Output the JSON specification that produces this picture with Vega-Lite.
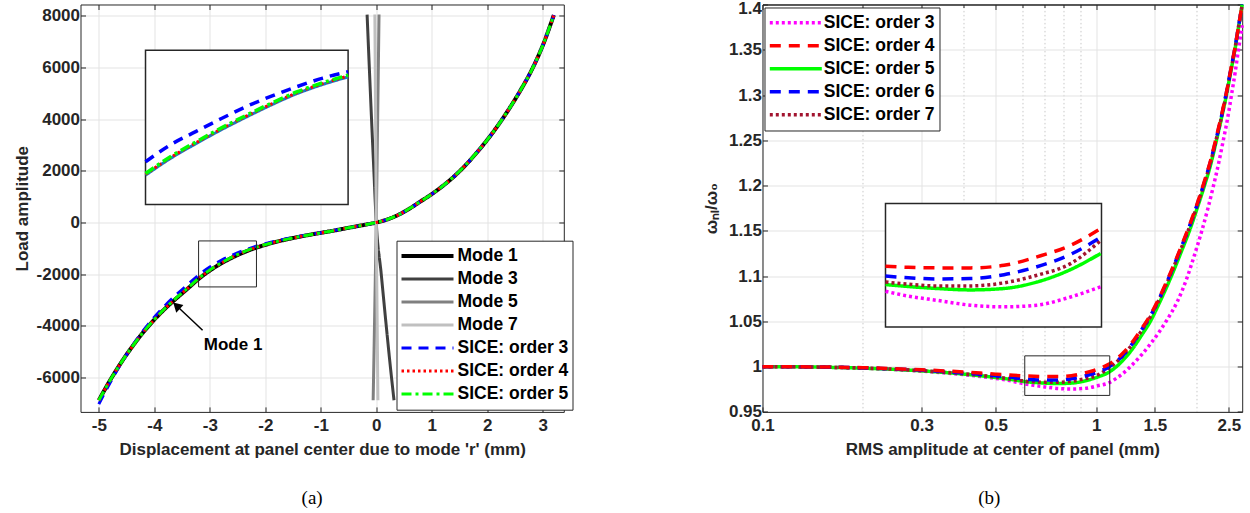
{
"$schema": "https://vega.github.io/schema/vega-lite/v6.json",
"background": "white",
"padding": {"left": 12.5, "top": -2.5, "right": 0, "bottom": 0},
"config": {
  "view": {"stroke": null},
  "font": "Liberation Sans",
  "axis": {"labelFont": "Liberation Sans", "labelFontSize": 17, "labelFontWeight": "bold", "labelColor": "#262626", "titleFont": "Liberation Sans", "titleFontSize": 17, "titleFontWeight": "bold", "titleColor": "#262626", "domainColor": "#262626", "domainWidth": 1, "tickColor": "#262626", "tickWidth": 1, "gridColor": "#e3e3e3", "gridWidth": 1}
},
"datasets": {
  "left": [
    {"series":"Mode 1","x":-5.0,"y":-6880},{"series":"Mode 1","x":-4.8,"y":-6120},{"series":"Mode 1","x":-4.6,"y":-5430},{"series":"Mode 1","x":-4.4,"y":-4810},{"series":"Mode 1","x":-4.2,"y":-4250},{"series":"Mode 1","x":-4.0,"y":-3760},{"series":"Mode 1","x":-3.8,"y":-3320},{"series":"Mode 1","x":-3.6,"y":-2930},{"series":"Mode 1","x":-3.4,"y":-2560},{"series":"Mode 1","x":-3.2,"y":-2180},{"series":"Mode 1","x":-3.0,"y":-1860},{"series":"Mode 1","x":-2.8,"y":-1590},{"series":"Mode 1","x":-2.6,"y":-1360},{"series":"Mode 1","x":-2.4,"y":-1165},{"series":"Mode 1","x":-2.2,"y":-1000},{"series":"Mode 1","x":-2.0,"y":-865},{"series":"Mode 1","x":-1.8,"y":-745},{"series":"Mode 1","x":-1.6,"y":-645},{"series":"Mode 1","x":-1.4,"y":-555},{"series":"Mode 1","x":-1.2,"y":-475},{"series":"Mode 1","x":-1.0,"y":-400},{"series":"Mode 1","x":-0.8,"y":-325},{"series":"Mode 1","x":-0.6,"y":-245},{"series":"Mode 1","x":-0.4,"y":-165},{"series":"Mode 1","x":-0.2,"y":-85},{"series":"Mode 1","x":0,"y":0},{"series":"Mode 1","x":0.2,"y":120},{"series":"Mode 1","x":0.4,"y":300},{"series":"Mode 1","x":0.6,"y":540},{"series":"Mode 1","x":0.8,"y":820},{"series":"Mode 1","x":1.0,"y":1100},{"series":"Mode 1","x":1.2,"y":1420},{"series":"Mode 1","x":1.4,"y":1780},{"series":"Mode 1","x":1.6,"y":2200},{"series":"Mode 1","x":1.8,"y":2680},{"series":"Mode 1","x":2.0,"y":3200},{"series":"Mode 1","x":2.2,"y":3780},{"series":"Mode 1","x":2.4,"y":4420},{"series":"Mode 1","x":2.6,"y":5120},{"series":"Mode 1","x":2.8,"y":5900},{"series":"Mode 1","x":3.0,"y":6850},{"series":"Mode 1","x":3.2,"y":8030},
    {"series":"Mode 3","x":-0.165,"y":8050},{"series":"Mode 3","x":-0.125,"y":6000},{"series":"Mode 3","x":-0.085,"y":4000},{"series":"Mode 3","x":-0.043,"y":2000},{"series":"Mode 3","x":0,"y":0},{"series":"Mode 3","x":0.09,"y":-2000},{"series":"Mode 3","x":0.18,"y":-4000},{"series":"Mode 3","x":0.275,"y":-6000},{"series":"Mode 3","x":0.32,"y":-6880},
    {"series":"Mode 5","x":-0.056,"y":-6880},{"series":"Mode 5","x":-0.04,"y":-5000},{"series":"Mode 5","x":-0.02,"y":-2500},{"series":"Mode 5","x":0,"y":0},{"series":"Mode 5","x":0.025,"y":4000},{"series":"Mode 5","x":0.05,"y":8050},
    {"series":"Mode 7","x":-0.025,"y":8050},{"series":"Mode 7","x":-0.012,"y":4000},{"series":"Mode 7","x":0,"y":0},{"series":"Mode 7","x":0.015,"y":-3500},{"series":"Mode 7","x":0.03,"y":-6880},
    {"series":"SICE: order 3","x":-5.0,"y":-7030},{"series":"SICE: order 3","x":-4.8,"y":-6210},{"series":"SICE: order 3","x":-4.6,"y":-5460},{"series":"SICE: order 3","x":-4.4,"y":-4790},{"series":"SICE: order 3","x":-4.2,"y":-4190},{"series":"SICE: order 3","x":-4.0,"y":-3665},{"series":"SICE: order 3","x":-3.8,"y":-3200},{"series":"SICE: order 3","x":-3.6,"y":-2790},{"series":"SICE: order 3","x":-3.4,"y":-2410},{"series":"SICE: order 3","x":-3.2,"y":-2030},{"series":"SICE: order 3","x":-3.0,"y":-1725},{"series":"SICE: order 3","x":-2.8,"y":-1475},{"series":"SICE: order 3","x":-2.6,"y":-1265},{"series":"SICE: order 3","x":-2.4,"y":-1090},{"series":"SICE: order 3","x":-2.2,"y":-942},{"series":"SICE: order 3","x":-2.0,"y":-820},{"series":"SICE: order 3","x":-1.8,"y":-712},{"series":"SICE: order 3","x":-1.6,"y":-621},{"series":"SICE: order 3","x":-1.4,"y":-539},{"series":"SICE: order 3","x":-1.2,"y":-465},{"series":"SICE: order 3","x":-1.0,"y":-394},{"series":"SICE: order 3","x":-0.8,"y":-322},{"series":"SICE: order 3","x":-0.6,"y":-245},{"series":"SICE: order 3","x":-0.4,"y":-165},{"series":"SICE: order 3","x":-0.2,"y":-85},{"series":"SICE: order 3","x":0,"y":0},{"series":"SICE: order 3","x":0.2,"y":120},{"series":"SICE: order 3","x":0.4,"y":300},{"series":"SICE: order 3","x":0.6,"y":540},{"series":"SICE: order 3","x":0.8,"y":820},{"series":"SICE: order 3","x":1.0,"y":1100},{"series":"SICE: order 3","x":1.2,"y":1420},{"series":"SICE: order 3","x":1.4,"y":1780},{"series":"SICE: order 3","x":1.6,"y":2200},{"series":"SICE: order 3","x":1.8,"y":2680},{"series":"SICE: order 3","x":2.0,"y":3200},{"series":"SICE: order 3","x":2.2,"y":3780},{"series":"SICE: order 3","x":2.4,"y":4420},{"series":"SICE: order 3","x":2.6,"y":5120},{"series":"SICE: order 3","x":2.8,"y":5900},{"series":"SICE: order 3","x":3.0,"y":6850},{"series":"SICE: order 3","x":3.2,"y":8030},
    {"series":"SICE: order 4","x":-5.0,"y":-6880},{"series":"SICE: order 4","x":-4.8,"y":-6120},{"series":"SICE: order 4","x":-4.6,"y":-5430},{"series":"SICE: order 4","x":-4.4,"y":-4810},{"series":"SICE: order 4","x":-4.2,"y":-4250},{"series":"SICE: order 4","x":-4.0,"y":-3760},{"series":"SICE: order 4","x":-3.8,"y":-3315},{"series":"SICE: order 4","x":-3.6,"y":-2920},{"series":"SICE: order 4","x":-3.4,"y":-2550},{"series":"SICE: order 4","x":-3.2,"y":-2170},{"series":"SICE: order 4","x":-3.0,"y":-1850},{"series":"SICE: order 4","x":-2.8,"y":-1580},{"series":"SICE: order 4","x":-2.6,"y":-1350},{"series":"SICE: order 4","x":-2.4,"y":-1155},{"series":"SICE: order 4","x":-2.2,"y":-990},{"series":"SICE: order 4","x":-2.0,"y":-859},{"series":"SICE: order 4","x":-1.8,"y":-742},{"series":"SICE: order 4","x":-1.6,"y":-643},{"series":"SICE: order 4","x":-1.4,"y":-555},{"series":"SICE: order 4","x":-1.2,"y":-475},{"series":"SICE: order 4","x":-1.0,"y":-400},{"series":"SICE: order 4","x":-0.8,"y":-325},{"series":"SICE: order 4","x":-0.6,"y":-245},{"series":"SICE: order 4","x":-0.4,"y":-165},{"series":"SICE: order 4","x":-0.2,"y":-85},{"series":"SICE: order 4","x":0,"y":0},{"series":"SICE: order 4","x":0.2,"y":120},{"series":"SICE: order 4","x":0.4,"y":300},{"series":"SICE: order 4","x":0.6,"y":540},{"series":"SICE: order 4","x":0.8,"y":820},{"series":"SICE: order 4","x":1.0,"y":1100},{"series":"SICE: order 4","x":1.2,"y":1420},{"series":"SICE: order 4","x":1.4,"y":1780},{"series":"SICE: order 4","x":1.6,"y":2200},{"series":"SICE: order 4","x":1.8,"y":2680},{"series":"SICE: order 4","x":2.0,"y":3200},{"series":"SICE: order 4","x":2.2,"y":3780},{"series":"SICE: order 4","x":2.4,"y":4420},{"series":"SICE: order 4","x":2.6,"y":5120},{"series":"SICE: order 4","x":2.8,"y":5900},{"series":"SICE: order 4","x":3.0,"y":6850},{"series":"SICE: order 4","x":3.2,"y":8030},
    {"series":"SICE: order 5","x":-5.0,"y":-6880},{"series":"SICE: order 5","x":-4.8,"y":-6120},{"series":"SICE: order 5","x":-4.6,"y":-5430},{"series":"SICE: order 5","x":-4.4,"y":-4810},{"series":"SICE: order 5","x":-4.2,"y":-4250},{"series":"SICE: order 5","x":-4.0,"y":-3755},{"series":"SICE: order 5","x":-3.8,"y":-3310},{"series":"SICE: order 5","x":-3.6,"y":-2910},{"series":"SICE: order 5","x":-3.4,"y":-2540},{"series":"SICE: order 5","x":-3.2,"y":-2160},{"series":"SICE: order 5","x":-3.0,"y":-1840},{"series":"SICE: order 5","x":-2.8,"y":-1570},{"series":"SICE: order 5","x":-2.6,"y":-1340},{"series":"SICE: order 5","x":-2.4,"y":-1145},{"series":"SICE: order 5","x":-2.2,"y":-982},{"series":"SICE: order 5","x":-2.0,"y":-853},{"series":"SICE: order 5","x":-1.8,"y":-739},{"series":"SICE: order 5","x":-1.6,"y":-641},{"series":"SICE: order 5","x":-1.4,"y":-554},{"series":"SICE: order 5","x":-1.2,"y":-475},{"series":"SICE: order 5","x":-1.0,"y":-400},{"series":"SICE: order 5","x":-0.8,"y":-325},{"series":"SICE: order 5","x":-0.6,"y":-245},{"series":"SICE: order 5","x":-0.4,"y":-165},{"series":"SICE: order 5","x":-0.2,"y":-85},{"series":"SICE: order 5","x":0,"y":0},{"series":"SICE: order 5","x":0.2,"y":120},{"series":"SICE: order 5","x":0.4,"y":300},{"series":"SICE: order 5","x":0.6,"y":540},{"series":"SICE: order 5","x":0.8,"y":820},{"series":"SICE: order 5","x":1.0,"y":1100},{"series":"SICE: order 5","x":1.2,"y":1420},{"series":"SICE: order 5","x":1.4,"y":1780},{"series":"SICE: order 5","x":1.6,"y":2200},{"series":"SICE: order 5","x":1.8,"y":2680},{"series":"SICE: order 5","x":2.0,"y":3200},{"series":"SICE: order 5","x":2.2,"y":3780},{"series":"SICE: order 5","x":2.4,"y":4420},{"series":"SICE: order 5","x":2.6,"y":5120},{"series":"SICE: order 5","x":2.8,"y":5900},{"series":"SICE: order 5","x":3.0,"y":6850},{"series":"SICE: order 5","x":3.2,"y":8030}
  ],
  "leftInset": [
    {"series":"Mode 1","x":-3.202,"y":-2155},{"series":"Mode 1","x":-3.072,"y":-1959},{"series":"Mode 1","x":-2.941,"y":-1789},{"series":"Mode 1","x":-2.811,"y":-1629},{"series":"Mode 1","x":-2.681,"y":-1481},{"series":"Mode 1","x":-2.55,"y":-1339},{"series":"Mode 1","x":-2.42,"y":-1211},{"series":"Mode 1","x":-2.289,"y":-1107},{"series":"Mode 1","x":-2.159,"y":-1020},
    {"series":"SICE: order 3","x":-3.202,"y":-2000},{"series":"SICE: order 3","x":-3.072,"y":-1802},{"series":"SICE: order 3","x":-2.941,"y":-1649},{"series":"SICE: order 3","x":-2.811,"y":-1501},{"series":"SICE: order 3","x":-2.681,"y":-1360},{"series":"SICE: order 3","x":-2.55,"y":-1239},{"series":"SICE: order 3","x":-2.42,"y":-1131},{"series":"SICE: order 3","x":-2.289,"y":-1034},{"series":"SICE: order 3","x":-2.159,"y":-960},
    {"series":"SICE: order 4","x":-3.202,"y":-2145},{"series":"SICE: order 4","x":-3.072,"y":-1949},{"series":"SICE: order 4","x":-2.941,"y":-1779},{"series":"SICE: order 4","x":-2.811,"y":-1619},{"series":"SICE: order 4","x":-2.681,"y":-1471},{"series":"SICE: order 4","x":-2.55,"y":-1329},{"series":"SICE: order 4","x":-2.42,"y":-1201},{"series":"SICE: order 4","x":-2.289,"y":-1097},{"series":"SICE: order 4","x":-2.159,"y":-1010},
    {"series":"SICE: order 5","x":-3.202,"y":-2135},{"series":"SICE: order 5","x":-3.072,"y":-1939},{"series":"SICE: order 5","x":-2.941,"y":-1769},{"series":"SICE: order 5","x":-2.811,"y":-1609},{"series":"SICE: order 5","x":-2.681,"y":-1461},{"series":"SICE: order 5","x":-2.55,"y":-1319},{"series":"SICE: order 5","x":-2.42,"y":-1191},{"series":"SICE: order 5","x":-2.289,"y":-1087},{"series":"SICE: order 5","x":-2.159,"y":-1000}
  ],
  "right": [
    {"s":"SICE: order 3","x":0.1,"y":1.0},{"s":"SICE: order 3","x":0.15,"y":0.9994},{"s":"SICE: order 3","x":0.2,"y":0.9983},{"s":"SICE: order 3","x":0.25,"y":0.9968},{"s":"SICE: order 3","x":0.3,"y":0.9951},{"s":"SICE: order 3","x":0.35,"y":0.9932},{"s":"SICE: order 3","x":0.4,"y":0.9912},{"s":"SICE: order 3","x":0.45,"y":0.9891},{"s":"SICE: order 3","x":0.5,"y":0.987},{"s":"SICE: order 3","x":0.55,"y":0.9846},{"s":"SICE: order 3","x":0.611,"y":0.9808},{"s":"SICE: order 3","x":0.65,"y":0.9793},{"s":"SICE: order 3","x":0.703,"y":0.9776},{"s":"SICE: order 3","x":0.769,"y":0.9759},{"s":"SICE: order 3","x":0.843,"y":0.9753},{"s":"SICE: order 3","x":0.922,"y":0.9759},{"s":"SICE: order 3","x":1.01,"y":0.9788},{"s":"SICE: order 3","x":1.096,"y":0.9824},{"s":"SICE: order 3","x":1.15,"y":0.9871},{"s":"SICE: order 3","x":1.2,"y":0.9921},{"s":"SICE: order 3","x":1.267,"y":1.0},{"s":"SICE: order 3","x":1.37,"y":1.0133},{"s":"SICE: order 3","x":1.456,"y":1.0253},{"s":"SICE: order 3","x":1.55,"y":1.0391},{"s":"SICE: order 3","x":1.63,"y":1.0515},{"s":"SICE: order 3","x":1.75,"y":1.0716},{"s":"SICE: order 3","x":1.874,"y":1.0985},{"s":"SICE: order 3","x":1.97,"y":1.123},{"s":"SICE: order 3","x":2.07,"y":1.149},{"s":"SICE: order 3","x":2.16,"y":1.174},{"s":"SICE: order 3","x":2.245,"y":1.199},{"s":"SICE: order 3","x":2.33,"y":1.225},{"s":"SICE: order 3","x":2.405,"y":1.25},{"s":"SICE: order 3","x":2.48,"y":1.275},{"s":"SICE: order 3","x":2.545,"y":1.3},{"s":"SICE: order 3","x":2.61,"y":1.325},{"s":"SICE: order 3","x":2.67,"y":1.35},{"s":"SICE: order 3","x":2.74,"y":1.377},
    {"s":"SICE: order 5","x":0.1,"y":1.0},{"s":"SICE: order 5","x":0.15,"y":0.9994},{"s":"SICE: order 5","x":0.2,"y":0.9983},{"s":"SICE: order 5","x":0.25,"y":0.9969},{"s":"SICE: order 5","x":0.3,"y":0.9953},{"s":"SICE: order 5","x":0.35,"y":0.9936},{"s":"SICE: order 5","x":0.4,"y":0.9918},{"s":"SICE: order 5","x":0.45,"y":0.9899},{"s":"SICE: order 5","x":0.5,"y":0.988},{"s":"SICE: order 5","x":0.55,"y":0.9861},{"s":"SICE: order 5","x":0.611,"y":0.9835},{"s":"SICE: order 5","x":0.65,"y":0.9826},{"s":"SICE: order 5","x":0.703,"y":0.9818},{"s":"SICE: order 5","x":0.769,"y":0.9813},{"s":"SICE: order 5","x":0.843,"y":0.9818},{"s":"SICE: order 5","x":0.922,"y":0.9841},{"s":"SICE: order 5","x":1.01,"y":0.9885},{"s":"SICE: order 5","x":1.096,"y":0.9942},{"s":"SICE: order 5","x":1.15,"y":1.0},{"s":"SICE: order 5","x":1.2,"y":1.0065},{"s":"SICE: order 5","x":1.296,"y":1.0215},{"s":"SICE: order 5","x":1.37,"y":1.035},{"s":"SICE: order 5","x":1.454,"y":1.05},{"s":"SICE: order 5","x":1.55,"y":1.071},{"s":"SICE: order 5","x":1.681,"y":1.1},{"s":"SICE: order 5","x":1.8,"y":1.127},{"s":"SICE: order 5","x":1.904,"y":1.15},{"s":"SICE: order 5","x":2.0,"y":1.173},{"s":"SICE: order 5","x":2.112,"y":1.2},{"s":"SICE: order 5","x":2.2,"y":1.222},{"s":"SICE: order 5","x":2.294,"y":1.25},{"s":"SICE: order 5","x":2.38,"y":1.276},{"s":"SICE: order 5","x":2.458,"y":1.3},{"s":"SICE: order 5","x":2.53,"y":1.325},{"s":"SICE: order 5","x":2.606,"y":1.35},{"s":"SICE: order 5","x":2.67,"y":1.374},{"s":"SICE: order 5","x":2.74,"y":1.4},
    {"s":"SICE: order 7","x":0.1,"y":1.0},{"s":"SICE: order 7","x":0.15,"y":0.9994},{"s":"SICE: order 7","x":0.2,"y":0.9984},{"s":"SICE: order 7","x":0.25,"y":0.9971},{"s":"SICE: order 7","x":0.3,"y":0.9955},{"s":"SICE: order 7","x":0.35,"y":0.9939},{"s":"SICE: order 7","x":0.4,"y":0.9922},{"s":"SICE: order 7","x":0.45,"y":0.9904},{"s":"SICE: order 7","x":0.5,"y":0.9886},{"s":"SICE: order 7","x":0.55,"y":0.9866},{"s":"SICE: order 7","x":0.611,"y":0.9841},{"s":"SICE: order 7","x":0.65,"y":0.9833},{"s":"SICE: order 7","x":0.703,"y":0.9827},{"s":"SICE: order 7","x":0.769,"y":0.9827},{"s":"SICE: order 7","x":0.843,"y":0.9838},{"s":"SICE: order 7","x":0.922,"y":0.9865},{"s":"SICE: order 7","x":1.01,"y":0.9906},{"s":"SICE: order 7","x":1.086,"y":0.998},{"s":"SICE: order 7","x":1.15,"y":1.005},{"s":"SICE: order 7","x":1.2,"y":1.0115},{"s":"SICE: order 7","x":1.296,"y":1.027},{"s":"SICE: order 7","x":1.37,"y":1.04},{"s":"SICE: order 7","x":1.454,"y":1.055},{"s":"SICE: order 7","x":1.55,"y":1.075},{"s":"SICE: order 7","x":1.681,"y":1.104},{"s":"SICE: order 7","x":1.8,"y":1.131},{"s":"SICE: order 7","x":1.904,"y":1.154},{"s":"SICE: order 7","x":2.0,"y":1.176},{"s":"SICE: order 7","x":2.112,"y":1.203},{"s":"SICE: order 7","x":2.2,"y":1.225},{"s":"SICE: order 7","x":2.294,"y":1.252},{"s":"SICE: order 7","x":2.38,"y":1.277},{"s":"SICE: order 7","x":2.458,"y":1.302},{"s":"SICE: order 7","x":2.53,"y":1.326},{"s":"SICE: order 7","x":2.606,"y":1.351},{"s":"SICE: order 7","x":2.67,"y":1.375},{"s":"SICE: order 7","x":2.74,"y":1.4},
    {"s":"SICE: order 6","x":0.1,"y":1.0},{"s":"SICE: order 6","x":0.15,"y":0.9995},{"s":"SICE: order 6","x":0.2,"y":0.9986},{"s":"SICE: order 6","x":0.25,"y":0.9974},{"s":"SICE: order 6","x":0.3,"y":0.996},{"s":"SICE: order 6","x":0.35,"y":0.9945},{"s":"SICE: order 6","x":0.4,"y":0.993},{"s":"SICE: order 6","x":0.45,"y":0.9914},{"s":"SICE: order 6","x":0.5,"y":0.9899},{"s":"SICE: order 6","x":0.55,"y":0.9884},{"s":"SICE: order 6","x":0.611,"y":0.9862},{"s":"SICE: order 6","x":0.65,"y":0.9856},{"s":"SICE: order 6","x":0.703,"y":0.9852},{"s":"SICE: order 6","x":0.769,"y":0.9853},{"s":"SICE: order 6","x":0.843,"y":0.9867},{"s":"SICE: order 6","x":0.922,"y":0.9895},{"s":"SICE: order 6","x":1.01,"y":0.9939},{"s":"SICE: order 6","x":1.086,"y":0.9991},{"s":"SICE: order 6","x":1.15,"y":1.0055},{"s":"SICE: order 6","x":1.2,"y":1.012},{"s":"SICE: order 6","x":1.296,"y":1.0275},{"s":"SICE: order 6","x":1.37,"y":1.041},{"s":"SICE: order 6","x":1.454,"y":1.056},{"s":"SICE: order 6","x":1.55,"y":1.076},{"s":"SICE: order 6","x":1.681,"y":1.105},{"s":"SICE: order 6","x":1.8,"y":1.132},{"s":"SICE: order 6","x":1.904,"y":1.155},{"s":"SICE: order 6","x":2.0,"y":1.177},{"s":"SICE: order 6","x":2.112,"y":1.204},{"s":"SICE: order 6","x":2.2,"y":1.226},{"s":"SICE: order 6","x":2.294,"y":1.253},{"s":"SICE: order 6","x":2.38,"y":1.278},{"s":"SICE: order 6","x":2.458,"y":1.303},{"s":"SICE: order 6","x":2.53,"y":1.327},{"s":"SICE: order 6","x":2.606,"y":1.352},{"s":"SICE: order 6","x":2.67,"y":1.375},{"s":"SICE: order 6","x":2.74,"y":1.4},
    {"s":"SICE: order 4","x":0.1,"y":1.0},{"s":"SICE: order 4","x":0.15,"y":0.9996},{"s":"SICE: order 4","x":0.2,"y":0.9988},{"s":"SICE: order 4","x":0.25,"y":0.9977},{"s":"SICE: order 4","x":0.3,"y":0.9965},{"s":"SICE: order 4","x":0.35,"y":0.9953},{"s":"SICE: order 4","x":0.4,"y":0.9941},{"s":"SICE: order 4","x":0.45,"y":0.9929},{"s":"SICE: order 4","x":0.5,"y":0.9917},{"s":"SICE: order 4","x":0.55,"y":0.9907},{"s":"SICE: order 4","x":0.611,"y":0.9897},{"s":"SICE: order 4","x":0.65,"y":0.9893},{"s":"SICE: order 4","x":0.703,"y":0.9891},{"s":"SICE: order 4","x":0.769,"y":0.9891},{"s":"SICE: order 4","x":0.843,"y":0.99},{"s":"SICE: order 4","x":0.922,"y":0.993},{"s":"SICE: order 4","x":1.01,"y":0.9971},{"s":"SICE: order 4","x":1.086,"y":1.0022},{"s":"SICE: order 4","x":1.15,"y":1.0085},{"s":"SICE: order 4","x":1.2,"y":1.0145},{"s":"SICE: order 4","x":1.296,"y":1.029},{"s":"SICE: order 4","x":1.37,"y":1.042},{"s":"SICE: order 4","x":1.454,"y":1.057},{"s":"SICE: order 4","x":1.55,"y":1.077},{"s":"SICE: order 4","x":1.681,"y":1.106},{"s":"SICE: order 4","x":1.8,"y":1.133},{"s":"SICE: order 4","x":1.904,"y":1.156},{"s":"SICE: order 4","x":2.0,"y":1.178},{"s":"SICE: order 4","x":2.112,"y":1.205},{"s":"SICE: order 4","x":2.2,"y":1.227},{"s":"SICE: order 4","x":2.294,"y":1.254},{"s":"SICE: order 4","x":2.38,"y":1.279},{"s":"SICE: order 4","x":2.458,"y":1.303},{"s":"SICE: order 4","x":2.53,"y":1.327},{"s":"SICE: order 4","x":2.606,"y":1.352},{"s":"SICE: order 4","x":2.67,"y":1.375},{"s":"SICE: order 4","x":2.74,"y":1.4}
  ],
  "rightInset": [
    {"s":"SICE: order 3","x":0.611,"y":0.9808},{"s":"SICE: order 3","x":0.65,"y":0.9791},{"s":"SICE: order 3","x":0.703,"y":0.9776},{"s":"SICE: order 3","x":0.769,"y":0.9759},{"s":"SICE: order 3","x":0.843,"y":0.9753},{"s":"SICE: order 3","x":0.922,"y":0.9759},{"s":"SICE: order 3","x":1.01,"y":0.9788},{"s":"SICE: order 3","x":1.096,"y":0.9824},
    {"s":"SICE: order 5","x":0.611,"y":0.9832},{"s":"SICE: order 5","x":0.65,"y":0.9825},{"s":"SICE: order 5","x":0.703,"y":0.9818},{"s":"SICE: order 5","x":0.769,"y":0.9813},{"s":"SICE: order 5","x":0.843,"y":0.9818},{"s":"SICE: order 5","x":0.922,"y":0.9841},{"s":"SICE: order 5","x":1.01,"y":0.9885},{"s":"SICE: order 5","x":1.096,"y":0.9942},
    {"s":"SICE: order 7","x":0.611,"y":0.9841},{"s":"SICE: order 7","x":0.65,"y":0.9833},{"s":"SICE: order 7","x":0.703,"y":0.9827},{"s":"SICE: order 7","x":0.769,"y":0.9827},{"s":"SICE: order 7","x":0.843,"y":0.9838},{"s":"SICE: order 7","x":0.922,"y":0.9865},{"s":"SICE: order 7","x":1.01,"y":0.9906},{"s":"SICE: order 7","x":1.096,"y":0.9988},
    {"s":"SICE: order 6","x":0.611,"y":0.9862},{"s":"SICE: order 6","x":0.65,"y":0.9856},{"s":"SICE: order 6","x":0.703,"y":0.9852},{"s":"SICE: order 6","x":0.769,"y":0.9853},{"s":"SICE: order 6","x":0.843,"y":0.9867},{"s":"SICE: order 6","x":0.922,"y":0.9895},{"s":"SICE: order 6","x":1.01,"y":0.9939},{"s":"SICE: order 6","x":1.096,"y":0.9999},
    {"s":"SICE: order 4","x":0.611,"y":0.9897},{"s":"SICE: order 4","x":0.65,"y":0.9893},{"s":"SICE: order 4","x":0.703,"y":0.9891},{"s":"SICE: order 4","x":0.769,"y":0.9891},{"s":"SICE: order 4","x":0.843,"y":0.99},{"s":"SICE: order 4","x":0.922,"y":0.993},{"s":"SICE: order 4","x":1.01,"y":0.9971},{"s":"SICE: order 4","x":1.096,"y":1.003}
  ]
},
"spacing": 198,
"bounds": "flush",
"resolve": {"scale": {"color": "independent", "strokeDash": "independent", "strokeWidth": "independent"}},
"hconcat": [
  {
    "width": 483.3, "height": 407.4,
    "title": {"text": "(a)", "orient": "bottom", "anchor": "middle", "font": "Liberation Serif", "fontSize": 19, "fontWeight": "normal", "color": "#000000", "offset": 31, "dx": -10},
    "resolve": {"scale": {"x": "independent", "y": "independent", "color": "independent", "strokeDash": "independent", "strokeWidth": "independent"}},
    "layer": [
      {
        "layer": [
          {
            "data": {"name": "left"},
            "mark": {"type": "line", "interpolate": "monotone"},
            "encoding": {
              "x": {"field": "x", "type": "quantitative", "scale": {"domain": [-5.33, 3.38], "nice": false, "zero": false},
                    "axis": {"orient": "bottom", "values": [-5,-4,-3,-2,-1,0,1,2,3], "title": "Displacement at panel center due to mode 'r' (mm)", "tickSize": -5, "labelPadding": 11, "titlePadding": 8, "grid": true, "labelFlush": false, "labelExpr": "datum.value < 0 ? '-' + format(-datum.value, 'd') : format(datum.value, 'd')"}},
              "y": {"field": "y", "type": "quantitative", "scale": {"domain": [-7330, 8440], "nice": false, "zero": false},
                    "axis": {"orient": "left", "values": [-6000,-4000,-2000,0,2000,4000,6000,8000], "title": "Load amplitude", "tickSize": -5, "labelPadding": 6, "titlePadding": 5, "grid": true, "labelFlush": false, "labelExpr": "datum.value < 0 ? '-' + format(-datum.value, 'd') : format(datum.value, 'd')"}},
              "color": {"field": "series", "type": "nominal",
                        "scale": {"domain": ["Mode 1","Mode 3","Mode 5","Mode 7","SICE: order 3","SICE: order 4","SICE: order 5"], "range": ["#000000","#404040","#808080","#c0c0c0","#0000ff","#ff0000","#00ff00"]},
                        "legend": {"title": null, "orient": "none", "legendX": 316, "legendY": 236.2, "symbolType": "stroke", "symbolSize": 2704, "clipHeight": 22.6, "labelFont": "Liberation Sans", "labelFontSize": 17.5, "labelFontWeight": "bold", "labelColor": "#000000", "fillColor": "#ffffff", "strokeColor": "#262626", "padding": 4, "rowPadding": 0, "symbolOffset": -1, "labelOffset": 2, "labelLimit": 300}},
              "strokeDash": {"field": "series", "type": "nominal",
                        "scale": {"domain": ["Mode 1","Mode 3","Mode 5","Mode 7","SICE: order 3","SICE: order 4","SICE: order 5"], "range": [[1,0],[1,0],[1,0],[1,0],[10,7],[2.5,3],[10,4,3,4]]}},
              "strokeWidth": {"field": "series", "type": "nominal",
                        "scale": {"type": "ordinal", "domain": ["Mode 1","Mode 3","Mode 5","Mode 7","SICE: order 3","SICE: order 4","SICE: order 5"], "range": [4,3,3,3,3,3,3]}}
            }
          },
          {
            "data": {"name": "left"},
            "mark": {"type": "point", "opacity": 0},
            "encoding": {
              "x": {"field": "x", "type": "quantitative", "axis": {"orient": "top", "values": [-5,-4,-3,-2,-1,0,1,2,3], "labels": false, "title": null, "grid": false, "tickSize": -5}},
              "y": {"field": "y", "type": "quantitative", "axis": {"orient": "right", "values": [-6000,-4000,-2000,0,2000,4000,6000,8000], "labels": false, "title": null, "grid": false, "tickSize": -5}}
            }
          },
          {
            "data": {"values": [{}]},
            "mark": {"type": "rect", "fill": "#ffffff", "fillOpacity": 0, "stroke": "#262626", "strokeWidth": 1},
            "encoding": {
              "x": {"datum": -3.202, "type": "quantitative", "axis": null}, "x2": {"datum": -2.159},
              "y": {"datum": -712, "type": "quantitative", "axis": null}, "y2": {"datum": -2493}
            }
          },
          {
            "data": {"values": [{}]},
            "mark": {"type": "rule", "color": "#000000", "strokeWidth": 1.5},
            "encoding": {
              "x": {"datum": -3.13, "type": "quantitative", "axis": null}, "x2": {"datum": -3.56},
              "y": {"datum": -4170, "type": "quantitative", "axis": null}, "y2": {"datum": -3300}
            }
          },
          {
            "data": {"values": [{}]},
            "mark": {"type": "point", "shape": "triangle-up", "filled": true, "color": "#000000", "opacity": 1, "size": 110, "angle": 313},
            "encoding": {
              "x": {"datum": -3.6, "type": "quantitative", "axis": null},
              "y": {"datum": -3220, "type": "quantitative", "axis": null}
            }
          },
          {
            "data": {"values": [{}]},
            "mark": {"type": "text", "font": "Liberation Sans", "fontSize": 17, "fontWeight": "bold", "color": "#000000", "align": "center", "baseline": "middle"},
            "encoding": {
              "x": {"datum": -2.58, "type": "quantitative", "axis": null},
              "y": {"datum": -4750, "type": "quantitative", "axis": null},
              "text": {"value": "Mode 1"}
            }
          }
        ]
      },
      {
        "layer": [
          {
            "data": {"values": [{}]},
            "mark": {"type": "rect", "fill": "#ffffff", "stroke": "#262626", "strokeWidth": 1.5},
            "encoding": {
              "x": {"datum": -3.202, "type": "quantitative", "scale": {"domain": [-3.202, -2.159], "range": [65, 267.6], "nice": false, "zero": false}, "axis": null}, "x2": {"datum": -2.159},
              "y": {"datum": -712, "type": "quantitative", "scale": {"domain": [-2493, -712], "range": [200, 45.7], "nice": false, "zero": false}, "axis": null}, "y2": {"datum": -2493}
            }
          },
          {
            "data": {"name": "leftInset"},
            "mark": {"type": "line", "interpolate": "monotone"},
            "encoding": {
              "x": {"field": "x", "type": "quantitative", "axis": null},
              "y": {"field": "y", "type": "quantitative", "axis": null},
              "color": {"field": "series", "type": "nominal", "legend": null, "scale": {"domain": ["Mode 1","SICE: order 3","SICE: order 4","SICE: order 5"], "range": ["#1f77c4","#0000ff","#ff0000","#00ff00"]}},
              "strokeDash": {"field": "series", "type": "nominal", "legend": null, "scale": {"domain": ["Mode 1","SICE: order 3","SICE: order 4","SICE: order 5"], "range": [[1,0],[10,7],[2.5,3],[10,4,3,4]]}},
              "strokeWidth": {"field": "series", "type": "nominal", "legend": null, "scale": {"type": "ordinal", "domain": ["Mode 1","SICE: order 3","SICE: order 4","SICE: order 5"], "range": [3,3.5,3,3.5]}}
            }
          }
        ]
      }
    ]
  },
  {
    "width": 479.7, "height": 407.4,
    "title": {"text": "(b)", "orient": "bottom", "anchor": "middle", "font": "Liberation Serif", "fontSize": 19, "fontWeight": "normal", "color": "#000000", "offset": 31, "dx": -13},
    "resolve": {"scale": {"x": "independent", "y": "independent"}},
    "layer": [
      {
        "layer": [
          {
            "data": {"name": "right"},
            "mark": {"type": "line", "interpolate": "monotone", "strokeWidth": 3.5},
            "encoding": {
              "x": {"field": "x", "type": "quantitative", "scale": {"type": "log", "domain": [0.1, 2.74], "nice": false},
                    "axis": {"orient": "bottom", "values": [0.1,0.3,0.5,1,1.5,2.5], "format": "~g", "title": "RMS amplitude at center of panel (mm)", "tickSize": -5, "labelPadding": 11, "titlePadding": 8, "grid": true, "labelFlush": false}},
              "y": {"field": "y", "type": "quantitative", "scale": {"domain": [0.95, 1.4], "nice": false, "zero": false},
                    "axis": {"orient": "left", "values": [0.95,1,1.05,1.1,1.15,1.2,1.25,1.3,1.35,1.4], "format": "~g", "title": "ω\u2099\u2097/ω\u2080", "tickSize": -5, "labelPadding": 6, "titlePadding": 8, "grid": true, "labelFlush": false, "labelOffset": {"condition": {"test": "datum.value > 1.39", "value": 4}, "value": 0}}},
              "color": {"field": "s", "type": "nominal",
                        "scale": {"domain": ["SICE: order 3","SICE: order 4","SICE: order 5","SICE: order 6","SICE: order 7"], "range": ["#ff00ff","#ff0000","#00ff00","#0000ff","#a2142f"]},
                        "legend": {"title": null, "orient": "none", "legendX": 2, "legendY": 3, "symbolType": "stroke", "symbolSize": 2704, "symbolStrokeWidth": 3.5, "clipHeight": 22.6, "labelFont": "Liberation Sans", "labelFontSize": 17.5, "labelFontWeight": "bold", "labelColor": "#000000", "fillColor": "#ffffff", "strokeColor": "#262626", "padding": 4, "rowPadding": 0, "symbolOffset": -0.7, "labelOffset": 0, "labelLimit": 300}},
              "strokeDash": {"field": "s", "type": "nominal",
                        "scale": {"domain": ["SICE: order 3","SICE: order 4","SICE: order 5","SICE: order 6","SICE: order 7"], "range": [[3,3],[11,8],[1,0],[11,8],[3,3]]}}
            }
          },
          {
            "data": {"name": "right"},
            "mark": {"type": "point", "opacity": 0},
            "encoding": {
              "x": {"field": "x", "type": "quantitative", "axis": {"orient": "top", "values": [0.2,0.4,0.6,0.7,0.8,0.9,2], "labels": false, "title": null, "grid": true, "gridDash": [1.5,2.5], "gridColor": "#c8c8c8", "tickSize": -3}},
              "y": {"field": "y", "type": "quantitative", "axis": {"orient": "right", "values": [0.95,1,1.05,1.1,1.15,1.2,1.25,1.3,1.35,1.4], "labels": false, "title": null, "grid": false, "tickSize": -5}}
            }
          },
          {
            "data": {"name": "right"},
            "mark": {"type": "point", "opacity": 0},
            "encoding": {
              "x": {"field": "x", "type": "quantitative", "axis": {"orient": "top", "values": [0.1,0.3,0.5,1,1.5,2.5], "labels": false, "title": null, "grid": false, "tickSize": -5}},
              "y": {"field": "y", "type": "quantitative", "axis": null}
            }
          },
          {
            "data": {"values": [{}]},
            "mark": {"type": "rect", "fill": "#ffffff", "fillOpacity": 0, "stroke": "#262626", "strokeWidth": 1},
            "encoding": {
              "x": {"datum": 0.611, "type": "quantitative", "axis": null}, "x2": {"datum": 1.0985},
              "y": {"datum": 1.0119, "type": "quantitative", "axis": null}, "y2": {"datum": 0.9682}
            }
          }
        ]
      },
      {
        "layer": [
          {
            "data": {"values": [{}]},
            "mark": {"type": "rect", "fill": "#ffffff", "stroke": "#262626", "strokeWidth": 1.5},
            "encoding": {
              "x": {"datum": 0.611, "type": "quantitative", "scale": {"type": "log", "domain": [0.611, 1.0985], "range": [123, 339], "nice": false}, "axis": null}, "x2": {"datum": 1.0985},
              "y": {"datum": 1.0119, "type": "quantitative", "scale": {"domain": [0.9682, 1.0119], "range": [322.4, 199], "nice": false, "zero": false}, "axis": null}, "y2": {"datum": 0.9682}
            }
          },
          {
            "data": {"name": "rightInset"},
            "mark": {"type": "line", "interpolate": "monotone", "strokeWidth": 3.5},
            "encoding": {
              "x": {"field": "x", "type": "quantitative", "axis": null},
              "y": {"field": "y", "type": "quantitative", "axis": null},
              "color": {"field": "s", "type": "nominal", "legend": null},
              "strokeDash": {"field": "s", "type": "nominal", "legend": null}
            }
          }
        ]
      }
    ]
  }
]
}
